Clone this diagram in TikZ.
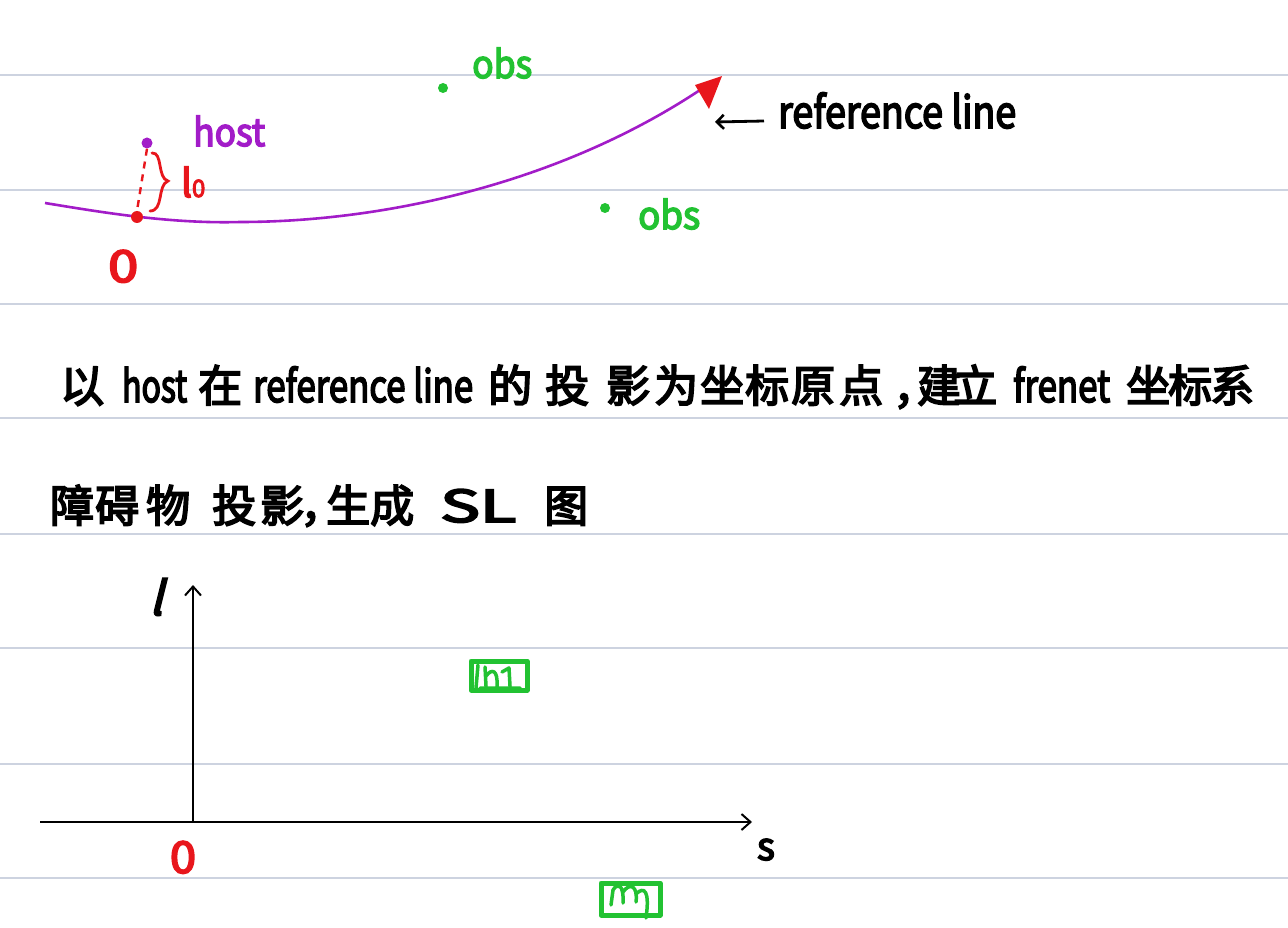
\documentclass[tikz,border=0pt]{standalone}
\usepackage{fontspec}
\usepackage{graphicx}
\newfontfamily\hw{Noto Sans CJK SC}[FakeBold=4]
\newfontfamily\hwi{Noto Sans CJK SC}[FakeBold=4, FakeSlant=0.25]
\usetikzlibrary{arrows.meta}
\definecolor{rulec}{HTML}{CDD3E0}
\definecolor{purp}{HTML}{A21CC8}
\definecolor{redc}{HTML}{E8161C}
\definecolor{grn}{HTML}{22C232}
\newcommand{\fitw}[2]{\resizebox{#1}{\height}{#2}}
\begin{document}
\begin{tikzpicture}[x=1pt,y=-1pt,
  txt/.style={inner sep=0pt, anchor=base west, font=\hw\fontsize{44}{50}\selectfont},
  small/.style={inner sep=0pt, anchor=base west, font=\hw\fontsize{38}{44}\selectfont},
  ruleline/.style={rulec, line width=2pt},
  dotg/.style={circle, fill=grn, inner sep=0pt, minimum size=10pt},
  axis/.style={line width=2pt, black, -{Straight Barb[length=9pt,width=16pt,line width=2pt]}},
  gbox/.style={grn, line width=5pt, line join=round, line cap=round},
  scrib/.style={grn, line width=3.5pt, line cap=round, line join=round}]
\fill[white] (0,0) rectangle (1288,928);
\useasboundingbox (0,0) rectangle (1288,928);
% ruled paper
\foreach \yy in {75,190,304,418,534,648,764,878}
  \draw[ruleline] (0,\yy) -- (1288,\yy);
% reference line
\coordinate (rs) at (45,203);
\coordinate (O) at (137,217);
\coordinate (re) at (706,86);
\draw[purp, line width=2.6pt] (rs) .. controls (100,212) and (170,224) .. (240,222)
  .. controls (380,222) and (560,185) .. (re);
\fill[redc] (695,85) -- (722,76) -- (709,109) -- cycle;
% host, projection
\node[circle, fill=purp, inner sep=0pt, minimum size=11pt] (host) at (147,143) {};
\node[circle, fill=redc, inner sep=0pt, minimum size=12pt] (Odot) at (O) {};
\draw[redc, line width=2.4pt, dashed, dash pattern=on 7pt off 6pt] (host.south) -- (Odot.north);
\draw[redc, line width=2.8pt, line cap=round] (152,153) .. controls (163,152) and (157,178) .. (168,181) .. controls (157,185) and (164,211) .. (150,211);
\node[small, redc] (l0) at (181,197) {l{\fontsize{24}{24}\selectfont 0}};
\node[small, purp] (hostlbl) at (193,146) {\fitw{72pt}{host}};
\node[txt, redc] (Olbl) at (108,282) {\fitw{30pt}{0}};
% obstacles
\node[dotg] (obs1) at (443,88) {};
\node[small, grn] (obs1lbl) at (472,78) {\fitw{60pt}{obs}};
\node[dotg] (obs2) at (605,208) {};
\node[small, grn] (obs2lbl) at (638,229) {\fitw{62pt}{obs}};
% reference line label
\node[txt, black] (reflbl) at (778,128) {\fitw{238pt}{reference line}};
\coordinate (refarrow) at (715,122);
\draw[line width=2.8pt, -{Straight Barb[length=7pt,width=14pt,line width=2.6pt]}] (reflbl.west |- 0,121) ++(-14,0) -- (refarrow);
% text line 1
\node[txt] (t1) at (60,402) {以};
\node[txt] (t2) at (122,402) {\fitw{65pt}{host}};
\node[txt] (t3) at (198,402) {在};
\node[txt] (t4) at (253,402) {\fitw{220pt}{reference line}};
\node[txt] (t5) at (488,402) {的};
\node[txt] (t6) at (545,402) {投};
\node[txt] (t7) at (606,402) {影};
\node[txt] (t8) at (654,402) {为};
\node[txt] (t9) at (700,402) {坐};
\node[txt] (t10) at (745,402) {标};
\node[txt] (t11) at (791,402) {原};
\node[txt] (t12) at (839,402) {点};
\node[txt] (t13) at (893,404) {，};
\node[txt] (t14) at (917,402) {建};
\node[txt] (t15) at (953,402) {立};
\node[txt] (t16) at (1013,402) {\fitw{97pt}{frenet}};
\node[txt] (t17) at (1126,402) {坐};
\node[txt] (t18) at (1168,402) {标};
\node[txt] (t19) at (1210,402) {系};
% text line 2
\node[txt] (u1) at (50,522) {障};
\node[txt] (u2) at (95,522) {碍};
\node[txt] (u3) at (146,522) {物};
\node[txt] (u4) at (212,522) {投};
\node[txt] (u5) at (260,522) {影};
\node[txt] (u6) at (300,522) {，};
\node[txt] (u7) at (326,522) {生};
\node[txt] (u8) at (370,522) {成};
\node[txt] (u9) at (440,522) {\fitw{76pt}{SL}};
\node[txt] (u10) at (544,522) {图};
% SL axes
\coordinate (orig) at (193,822);
\coordinate (ltop) at (193,585);
\coordinate (xl) at (40,822);
\coordinate (xr) at (752,822);
\draw[axis] (orig) -- (ltop);
\draw[axis] (xl) -- (xr);
\node[inner sep=0pt, anchor=base, font=\hwi\fontsize{46}{50}\selectfont] (llbl) at (156,615) {l};
\node[small, anchor=base] (slbl) at (766,860) {s};
\node[txt, redc, anchor=base] (O2) at (183,873) {\fitw{26pt}{0}};
% obstacle boxes in SL
\draw[gbox] (471,661) rectangle (527,690);
\draw[scrib] (478,665) -- (476,688) (485,667) -- (486,686) (486,676) .. controls (492,668) and (498,670) .. (497,686) (502,672) -- (509,668) -- (510,686) (480,688) -- (520,688);
\draw[gbox] (601,883) rectangle (660,915);
\draw[scrib] (611,905) -- (613,890) .. controls (618,882) and (624,885) .. (623,903) (623,892) .. controls (630,882) and (638,886) .. (636,902) (636,894) .. controls (644,886) and (650,890) .. (646,918);
\end{tikzpicture}
\end{document}
